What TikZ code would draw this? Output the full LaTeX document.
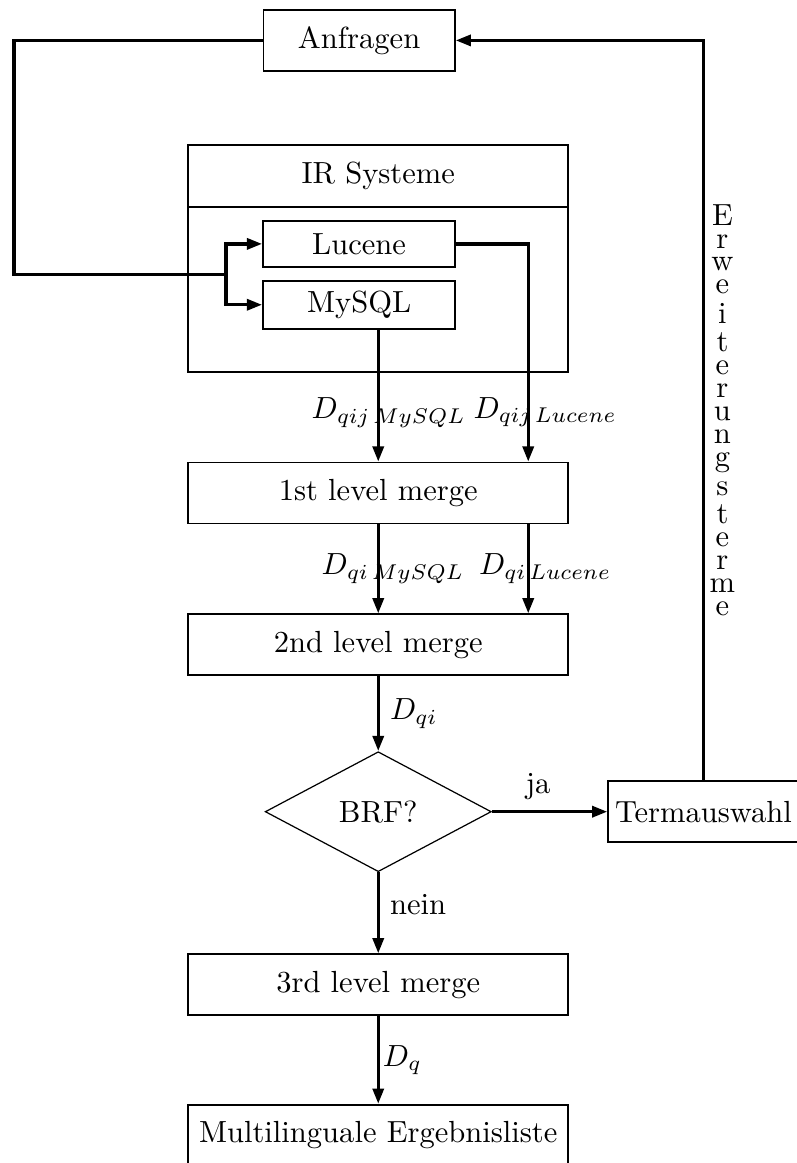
\documentclass[tikz,border=0pt]{standalone}
\usepackage{tikz}
\usetikzlibrary{shapes.geometric, positioning, arrows.meta}

\begin{document}
\begin{tikzpicture}[
    box/.style={rectangle, draw, semithick, minimum width=4.37cm,
                minimum height=0.7cm, align=center},
    smallbox/.style={box, minimum width=2.21cm, minimum height=0.53cm},
    decision/.style={diamond, draw, thin, aspect=2, inner sep=1pt,
                     minimum width=2.6cm, minimum height=1.38cm},
    arr/.style={-{Triangle[length=5pt, width=3.6pt]}, line width=1.1pt},
    conn/.style={line width=1.1pt}
  ]
  \useasboundingbox (-4.35, 0) rectangle (4.81, 13.375);

  \node[box, minimum width=2.2cm] (anf) at (-0.22, 12.91) {Anfragen};
  \node[box, minimum height=2.61cm] (irs) at (0, 10.40) {};
  \node[box, minimum height=0.71cm, anchor=north] (irt) at (irs.north) {IR Systeme};
  \node[smallbox] (luc) at (-0.22, 10.57) {Lucene};
  \node[smallbox] (sql) at (-0.22, 9.87) {MySQL};
  \node[box] (m1) at (0, 7.705) {1st level merge};
  \node[box] (m2) at (0, 5.96) {2nd level merge};
  \node[decision] (brf) at (0, 4.04) {BRF?};
  \node[box, minimum width=2.19cm, inner xsep=2pt] (term) at (3.74, 4.04) {Termauswahl};
  \node[box] (m3) at (0, 2.05) {3rd level merge};
  \node[box] (erg) at (0, 0.32) {Multilinguale Ergebnisliste};

  \coordinate (corner) at (-4.19, 10.22);
  \coordinate (fork) at (-1.75, 10.22);
  \coordinate (lx) at (1.725, 0);

  % queries into the IR systems
  \draw[conn] (anf.west) -| (corner) -- (fork);
  \draw[arr] (fork) |- (luc.west);
  \draw[arr] (fork) |- (sql.west);

  % merging
  \draw[arr] (sql.south -| m1.north) -- node[pos=0.63, xshift=0.12cm] (lqm) {$D_{qij\,MySQL}$} (m1.north);
  \draw[arr] (luc.east) -| node[pos=0.886, xshift=0.195cm] (lql) {$D_{qij\,Lucene}$} (lx |- m1.north);
  \draw[arr] (m1.south) -- node[midway, xshift=0.17cm] (lim) {$D_{qi\,MySQL}$} (m2.north);
  \draw[arr] (m1.south -| lx) -- node[midway, xshift=0.195cm] (lil) {$D_{qi\,Lucene}$} (m2.north -| lx);
  \draw[arr] (m2) -- node[right] (lqi) {$D_{qi}$} (brf);
  \draw[arr] (brf) -- node[pos=0.4, above] (lja) {ja} (term);
  \draw[arr] (brf) -- node[pos=0.4, right] (lnein) {nein} (m3);
  \draw[arr] (m3) -- node[right, inner sep=1pt] (lq) {$D_q$} (erg);

  % feedback
  \draw[arr] (term.north) |- node[pos=0.25, right, inner sep=1.5pt]
        (lerw) {\shortstack{E\\r\\w\\e\\i\\t\\e\\r\\u\\n\\g\\s\\t\\e\\r\\m\\e}} (anf.east);
\end{tikzpicture}
\end{document}
